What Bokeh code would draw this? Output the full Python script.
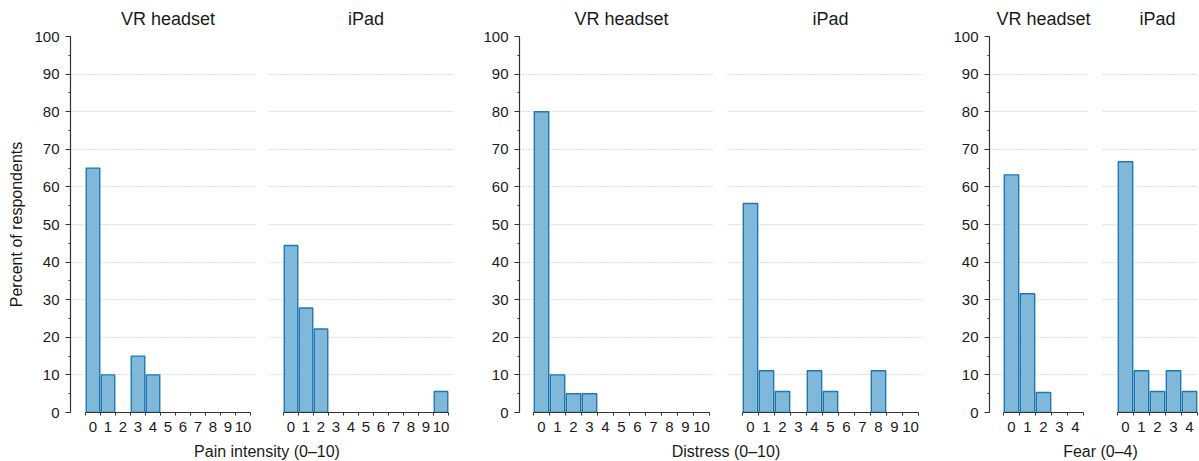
from bokeh.plotting import figure
from bokeh.models import Range1d, FixedTicker, SingleIntervalTicker
from bokeh.layouts import row, column
from bokeh.embed import file_html
from bokeh.resources import INLINE
from bokeh.core.properties import value

# ---------------- data ----------------
pain_scores = ["0", "1", "2", "3", "4", "5", "6", "7", "8", "9", "10"]
distress_scores = ["0", "1", "2", "3", "4", "5", "6", "7", "8", "9", "10"]
fear_scores = ["0", "1", "2", "3", "4"]

pain_vr = [65, 10, 0, 15, 10, 0, 0, 0, 0, 0, 0]
pain_ipad = [44.4, 27.8, 22.2, 0, 0, 0, 0, 0, 0, 0, 5.6]
distress_vr = [80, 10, 5, 5, 0, 0, 0, 0, 0, 0, 0]
distress_ipad = [55.6, 11.1, 5.6, 0, 11.1, 5.6, 0, 0, 11.1, 0, 0]
fear_vr = [63.2, 31.6, 5.3, 0, 0]
fear_ipad = [66.7, 11.1, 5.6, 11.1, 5.6]

panel_titles = ["VR headset", "iPad"]
x_labels = ["Pain intensity (0\u201310)", "Distress (0\u201310)", "Fear (0\u20134)"]
y_label = "Percent of respondents"
grid_ticks = [10, 20, 30, 40, 50, 60, 70, 80, 90]

# ---------------- style ----------------
FONT = "Liberation Sans"
FILL = "#80b8d9"
EDGE = "#1f77b4"
AXIS = "#333333"
TEXT = "#1a1a1a"
TITLE_H = 27
H = 413
TOP = 9
BOTTOM = 28
LABEL_H = 20

# (width, border_left, left_pad_px, right_pad_px) per panel
layout_spec = [
    (255, 70, 15, 5),
    (198, 13, 15, 5),
    (261, 66, 14, 5),
    (209, 13, 15, 5),
    (165, 66, 14, 5),
    (110, 14, 15, 1),
]
TOTAL_W = sum(s[0] for s in layout_spec)
groups = [
    (pain_scores, pain_vr, pain_ipad),
    (distress_scores, distress_vr, distress_ipad),
    (fear_scores, fear_vr, fear_ipad),
]


def make_panel(cats, vals, spec, show_y, show_ylabel):
    width, bl, lpad, rpad = spec
    n = len(cats)
    fw = width - bl
    cat_px = (fw - lpad - rpad) / n
    x_lo = -0.5 - lpad / cat_px
    x_hi = n - 0.5 + rpad / cat_px
    p = figure(width=width, height=H, x_range=Range1d(x_lo, x_hi),
               y_range=Range1d(0, 100), output_backend="svg",
               toolbar_location=None, min_border_left=bl, min_border_right=0,
               min_border_top=TOP, min_border_bottom=BOTTOM)
    p.outline_line_color = None
    xs = [i for i, v in enumerate(vals) if v > 0]
    tops = [v for v in vals if v > 0]
    p.vbar(x=xs, top=tops, width=0.9, fill_color=FILL, line_color=EDGE,
           line_width=1.4)
    # x axis
    xa = p.xaxis[0]
    xa.ticker = FixedTicker(ticks=list(range(n)),
                            minor_ticks=[i - 0.5 for i in range(n + 1)])
    xa.major_label_overrides = {i: c for i, c in enumerate(cats)}
    xa.bounds = (-0.5, n - 0.5)
    xa.axis_line_color = AXIS
    xa.axis_line_width = 1.2
    xa.major_tick_out = 0
    xa.major_tick_in = 0
    xa.minor_tick_out = 3
    xa.minor_tick_in = 0
    xa.minor_tick_line_color = AXIS
    xa.major_label_standoff = 6
    xa.major_label_text_font = FONT
    xa.major_label_text_font_size = "15px"
    xa.major_label_text_color = TEXT
    p.xgrid.visible = False
    # y axis
    ya = p.yaxis[0]
    ya.ticker = SingleIntervalTicker(interval=10, num_minor_ticks=2)
    if show_y:
        ya.axis_line_color = AXIS
        ya.axis_line_width = 1.2
        ya.major_tick_out = 5
        ya.major_tick_in = 0
        ya.minor_tick_out = 2
        ya.minor_tick_in = 0
        ya.major_tick_line_color = AXIS
        ya.minor_tick_line_color = AXIS
        ya.major_label_standoff = 6
        ya.major_label_text_font = FONT
        ya.major_label_text_font_size = "15px"
        ya.major_label_text_color = TEXT
        if show_ylabel:
            ya.axis_label = y_label
            ya.axis_label_text_font = FONT
            ya.axis_label_text_font_size = "16px"
            ya.axis_label_text_font_style = "normal"
            ya.axis_label_text_color = TEXT
            ya.axis_label_standoff = 6
    else:
        ya.visible = False
    p.ygrid.ticker = FixedTicker(ticks=grid_ticks)
    p.ygrid.grid_line_color = "#bdbdbd"
    p.ygrid.grid_line_dash = "1 2"
    p.ygrid.grid_line_width = 1
    geom = dict(bl=bl, x_lo=x_lo, x_hi=x_hi, fw=fw, width=width, n=n)
    return p, geom


figs = []
geoms = []
k = 0
for gi, (cats, vr, ipad) in enumerate(groups):
    for j, vals in enumerate((vr, ipad)):
        p, g = make_panel(cats, vals, layout_spec[k], j == 0,
                          gi == 0 and j == 0)
        figs.append(p)
        geoms.append(g)
        k += 1

# pixel positions (page x) of panel / group centres
offsets = []
acc = 0
for g in geoms:
    offsets.append(acc)
    acc += g["width"]


def px(idx, xv):
    g = geoms[idx]
    return offsets[idx] + g["bl"] + (xv - g["x_lo"]) / (g["x_hi"] - g["x_lo"]) * g["fw"]


title_x = [px(i, (geoms[i]["n"] - 1) / 2) for i in range(6)]
title_text = [panel_titles[i % 2] for i in range(6)]
label_x = []
for gi in range(3):
    a = px(2 * gi, -0.5)
    b = px(2 * gi + 1, geoms[2 * gi + 1]["n"] - 0.5)
    label_x.append((a + b) / 2)


def strip(height, xs, texts, size, y):
    s = figure(width=TOTAL_W, height=height, x_range=Range1d(0, TOTAL_W),
               y_range=Range1d(height, 0), output_backend="svg",
               toolbar_location=None, x_axis_type=None, y_axis_type=None,
               min_border=0)
    s.outline_line_color = None
    s.grid.visible = False
    s.text(x=xs, y=[y] * len(xs), text=texts, text_align="center",
           text_baseline="middle", text_font=value(FONT), text_font_size=size,
           text_color=TEXT)
    return s


top_strip = strip(TITLE_H, title_x, title_text, "18px", 18)
bottom_strip = strip(LABEL_H, label_x, x_labels, "16px", 11)

layout = column(top_strip, row(*figs, spacing=0), bottom_strip, spacing=0)
open("out.html", "w").write(file_html(layout, INLINE))
